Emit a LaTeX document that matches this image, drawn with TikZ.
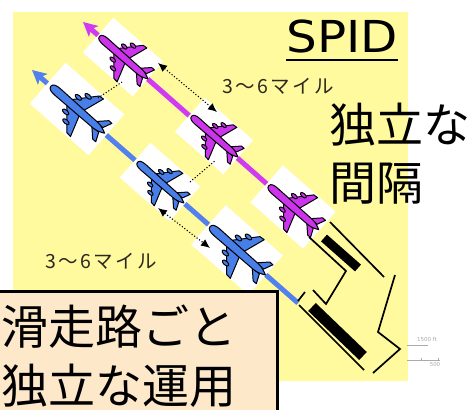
\documentclass[tikz,border=0pt]{standalone}
\usepackage{fontspec}
\setmainfont{DejaVu Sans}
\newfontfamily\jpfont{Noto Sans CJK JP}
\newfontfamily\jplabel[LetterSpace=12]{Noto Sans CJK JP}
\newfontfamily\spidfont{DejaVu Sans}
\usetikzlibrary{arrows.meta,calc}

\definecolor{padyellow}{RGB}{255,250,158}
\definecolor{notepeach}{RGB}{253,233,202}
\definecolor{jetblue}{RGB}{72,126,232}
\definecolor{jetpink}{RGB}{204,52,236}
\definecolor{trackblue}{RGB}{82,128,238}
\definecolor{trackpink}{RGB}{208,58,242}
\definecolor{scalegray}{RGB}{170,170,170}
\definecolor{labelink}{RGB}{45,40,30}

\tikzset{
  % airliner seen from above, nose along +x
  pics/jet/.style={code={
    \begin{scope}[fill=#1, draw=black, line width=1pt, line join=round]
      % wings
      \filldraw (10,3.5) -- (-8,24) -- (-13,24.5) -- (-6,3.5) -- cycle;
      \filldraw (10,-3.5) -- (-8,-24) -- (-13,-24.5) -- (-6,-3.5) -- cycle;
      % tailplane
      \filldraw (-22,3) -- (-31,12) -- (-35,12) -- (-31,3) -- cycle;
      \filldraw (-22,-3) -- (-31,-12) -- (-35,-12) -- (-31,-3) -- cycle;
      % engines
      \filldraw (6.5,9.5) ellipse [x radius=3.8, y radius=1.9];
      \filldraw (0,16.5) ellipse [x radius=3.8, y radius=1.9];
      \filldraw (6.5,-9.5) ellipse [x radius=3.8, y radius=1.9];
      \filldraw (0,-16.5) ellipse [x radius=3.8, y radius=1.9];
      % fuselage
      \filldraw (34,0) .. controls (34,3.4) and (30,4.2) .. (25,4.2) -- (-24,3.6)
        .. controls (-29,3.4) and (-33,1.6) .. (-36,0)
        .. controls (-33,-1.6) and (-29,-3.4) .. (-24,-3.6) -- (25,-4.2)
        .. controls (30,-4.2) and (34,-3.4) .. (34,0) -- cycle;
    \end{scope}
  }},
  tile/.style={fill=white, draw=none, inner sep=0pt, outer sep=0pt, rotate=-41.3,
    minimum width=70pt, minimum height=49pt},
  pinktrack/.style={draw=trackpink, line width=5pt, -{Stealth[length=14pt,width=14pt,inset=3pt]}},
  bluetrack/.style={draw=trackblue, line width=5pt, -{Stealth[length=14pt,width=14pt,inset=3pt]}},
  pairing/.style={dotted, line width=1.1pt},
  spacing/.style={dotted, line width=1.1pt, {Latex[length=9pt,width=8pt]}-{Latex[length=9pt,width=8pt]}},
  bar/.style={line width=#1, draw=black},
  taxi/.style={line width=1.7pt, draw=black, line join=miter},
  milestext/.style={font={\jplabel\fontsize{19.5}{22}\selectfont}, text=labelink, inner sep=0pt, anchor=base west},
  bigjp/.style={font={\jpfont\fontsize{47}{56}\selectfont}, inner sep=0pt, anchor=base west},
  notebox/.style={fill=notepeach, draw=black, line width=3pt, outer sep=0pt, inner sep=0pt},
  scaletext/.style={font=\fontsize{5.5}{6}\selectfont, text=scalegray, inner sep=0pt},
}

\begin{document}
\begin{tikzpicture}[x=1pt, y=-1pt]
  \useasboundingbox (0,0) rectangle (472,410);
  \fill[white] (0,0) rectangle (472,410);
  \fill[padyellow] (13,12) rectangle (408,381);

  % tiles under each aircraft
  \node[tile, minimum width=66pt, minimum height=46pt] (p1) at (123,57) {};
  \node[tile, minimum width=64pt, minimum height=45pt] (p2) at (214,136) {};
  \node[tile] (p3) at (293,207) {};
  \node[tile, minimum width=78pt, minimum height=54pt] (b1) at (77,109) {};
  \node[tile, minimum width=66pt, minimum height=46pt] (b2) at (160,182) {};
  \node[tile, minimum width=76pt, minimum height=52pt] (b3) at (237,250) {};

  % approach tracks
  \coordinate (pinktip) at (83,22);
  \coordinate (bluetip) at (32,70);
  \coordinate (blueend) at (298,303);
  \draw[pinktrack] (p3.center) -- (pinktip);
  \draw[bluetrack] (blueend) -- (bluetip);

  % tiles cover the tracks
  \foreach \t in {p1,p2,p3,b1,b2,b3} {
    \fill[white] (\t.north west) -- (\t.north east) -- (\t.south east) -- (\t.south west) -- cycle;
  }

  % aircraft
  \pic[rotate=138.7, scale=0.92] at (p1) {jet=jetpink};
  \pic[rotate=138.7, scale=0.88] at (p2) {jet=jetpink};
  \pic[rotate=138.7, scale=0.95] at (p3) {jet=jetpink};
  \pic[rotate=138.7, scale=1.02] at (b1) {jet=jetblue};
  \pic[rotate=138.7, scale=0.88] at (b2) {jet=jetblue};
  \pic[rotate=138.7, scale=1.05] at (b3) {jet=jetblue};

  % pairing lines between the two streams
  \draw[pairing] ($(b1)+(21,-11)$) -- ($(p1)+(-1,25)$);
  \draw[pairing] ($(b2)+(30,0)$) -- ($(p2)+(2,24)$);

  % in-trail spacing
  \draw[spacing] ($(p1)+(35,6)$) -- ($(p2)+(3,-24)$);
  \draw[spacing] ($(b2)+(-2,26)$) -- ($(b3)+(-27,-2)$);
  \node[milestext] (miles1) at (222,93) {3～6マイル};
  \node[milestext] (miles2) at (45,268) {3～6マイル};

  % runways and taxiways
  \draw[bar=9pt] (324,238) -- (358,268);
  \draw[bar=11pt] (312,307) -- (363,356);
  \draw[taxi] (330,222) -- (384,277);
  \draw[taxi] (309,237) -- (346,271) -- (326,304) -- (313,290);
  \draw[taxi] (298,301) -- (305,292);
  \draw[taxi] (299,305) -- (364,370);
  \draw[taxi] (395,275) -- (378,332) -- (400,349) -- (373,373);

  % scale
  \draw[scalegray, line width=0.8pt] (407,345) -- (428,345);
  \draw[scalegray, line width=0.8pt] (407,360) -- (440,360);
  \draw[scalegray, line width=0.6pt] (421,358) -- (421,360) (438,358) -- (438,360);
  \node[scaletext] (ft1500) at (427,339) {1500 ft};
  \node[scaletext] (ft500) at (435,364) {500};

  % headings
  \node[font={\spidfont\fontsize{44}{50}\selectfont}, inner sep=0pt] (spid) at (342,36) {\scalebox{1.1}[1]{SPID}};
  \draw[line width=2pt] ([yshift=-7pt]spid.south west) -- ([yshift=-7pt]spid.south east);
  \node[bigjp] (indep1) at (329,142) {独立な};
  \node[bigjp] (indep2) at (329,200) {間隔};

  % note box
  \node[notebox, anchor=north west, minimum width=279pt, minimum height=125pt] (note) at (-2,291.5) {};
  \node[bigjp] (note1) at (1,344) {滑走路ごと};
  \node[bigjp] (note2) at (1,403) {独立な運用};
\end{tikzpicture}
\end{document}
